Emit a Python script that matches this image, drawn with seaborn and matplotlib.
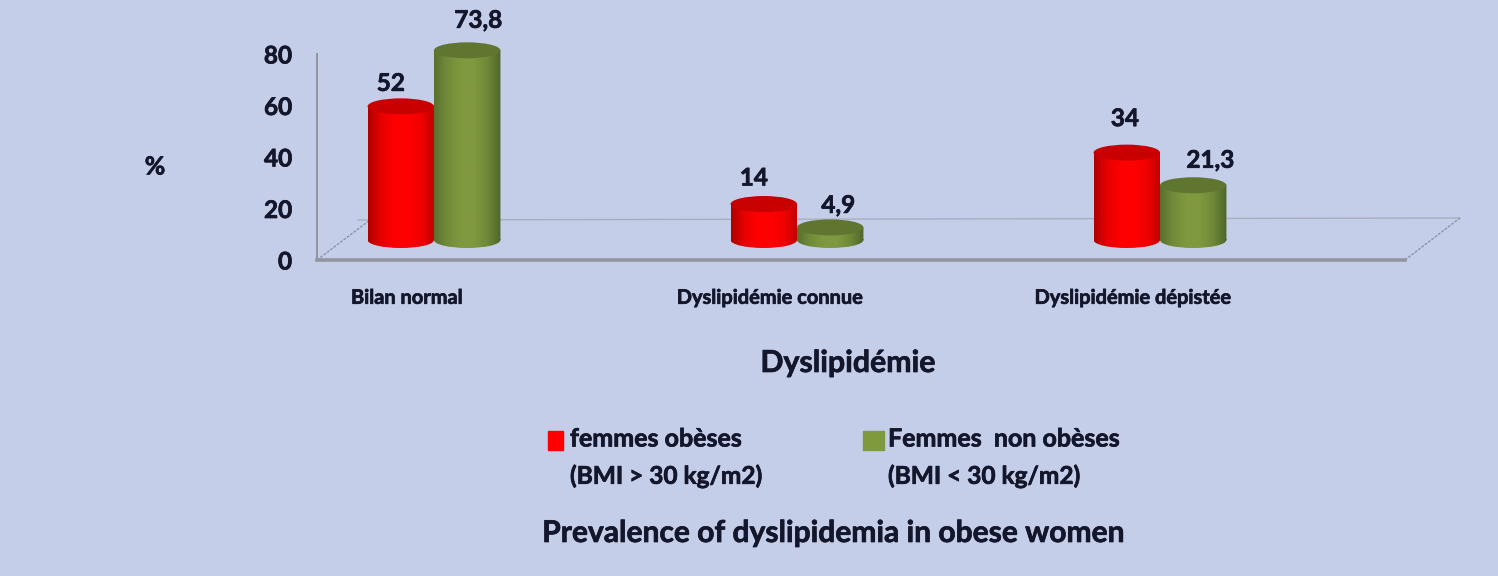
import numpy as np
import pandas as pd
import seaborn as sns
import matplotlib.pyplot as plt
import matplotlib.patheffects as pe
from matplotlib.colors import LinearSegmentedColormap
from matplotlib.lines import Line2D
from matplotlib.patches import Ellipse, Rectangle
from matplotlib.path import Path
from matplotlib.text import Text
from matplotlib.transforms import Affine2D

# data
categories = ["Bilan normal", "Dyslipidémie connue", "Dyslipidémie dépistée"]
obeses = [52, 14, 34]
non_obeses = [73.8, 4.9, 21.3]
series_names = ["femmes obèses", "Femmes  non obèses"]
series_notes = ["(BMI > 30 kg/m2)", "(BMI < 30 kg/m2)"]
y_ticks = [0, 20, 40, 60, 80]

# label nudges in pixels, the labels are not centred on the cylinders in the original
nudge_obeses = [(-10, 23), (-10, 26), (-2, 34)]
nudge_non_obeses = [(11, 30), (8, 22), (17, 25)]

W, H = 1498, 576
BG = "#C5CEE9"
INK = "#14172B"
sns.set_theme(style="white")
plt.rcParams["font.family"] = ["Lato", "DejaVu Sans"]
plt.rcParams["font.weight"] = "bold"

fig = plt.figure(figsize=(W / 100, H / 100), dpi=100, facecolor=BG)


def box(x0, y_top, x1, y_bottom):
    return [x0 / W, 1 - y_bottom / H, (x1 - x0) / W, (y_bottom - y_top) / H]


def fx(x):
    return x / W


def fy(y):
    return 1 - y / H


# x limits put the three groups at 434, 797 and 1160 px
x_lim = ((317 - 434) / 363, (1405 - 434) / 363)

# front axis
ax2 = fig.add_axes(box(317, 54, 1405, 260), facecolor="none")
ax2.set_xlim(x_lim)
ax2.set_ylim(0, 80)
ax2.set_yticks(y_ticks)
ax2.set_xticks([i - 27 / 363 for i in range(3)])
ax2.set_xticklabels(categories, fontsize=14.4, color=INK, fontweight="bold")
ax2.tick_params(axis="x", length=0, pad=20)
ax2.tick_params(axis="y", length=0, pad=18, labelsize=17.5, labelcolor=INK)
sns.despine(ax=ax2)
ax2.spines["left"].set_color("#8E8E94")
ax2.spines["left"].set_linewidth(1.3)
ax2.spines["bottom"].set_color("#92959F")
ax2.spines["bottom"].set_linewidth(2.6)

# floor of the 3d box, behind the axes
floor = [((317, 260), (370, 220), "#8F93A0", (0, (2, 1)), 1.0),
         ((358, 220), (1460, 218), "#A9AEBF", "-", 1.0),
         ((1405, 260), (1460, 218), "#8F93A0", (0, (2, 1)), 1.0)]
for a, b, col, ls, lw in floor:
    fig.add_artist(Line2D([fx(a[0]), fx(b[0])], [fy(a[1]), fy(b[1])], color=col, ls=ls, lw=lw, zorder=-1))

# bars
ax = fig.add_axes(box(317, 240 - 80 * 2.57, 1405, 240), facecolor="none")
df = pd.DataFrame({
    "categorie": categories * 2,
    "valeur": obeses + non_obeses,
    "groupe": [series_names[0]] * 3 + [series_names[1]] * 3,
})
sns.barplot(data=df, x="categorie", y="valeur", hue="groupe", order=categories,
            palette=["#FF0000", "#7F9A3C"], width=0.366, gap=0, legend=False,
            saturation=1, ax=ax)
ax.axis("off")

shades = [
    {"cmap": ["#B00000", "#E80000", "#FF0000", "#FF0000", "#F00000", "#C00000"], "top": "#C80000"},
    {"cmap": ["#5A7030", "#728C3A", "#80993F", "#80993F", "#6F8838", "#4F652A"], "top": "#5F7530"},
]
cap_h = 16 / 2.57

for k, (cont, nudges, vals) in enumerate(zip(ax.containers, [nudge_obeses, nudge_non_obeses], [obeses, non_obeses])):
    cmap = LinearSegmentedColormap.from_list("cyl", shades[k]["cmap"])
    for bar, (dx, dy), v in zip(cont, nudges, vals):
        x, w, h = bar.get_x(), bar.get_width(), bar.get_height()
        bar.set_visible(False)
        # round off the body with a bottom ellipse, then a horizontal shading
        rect = Path.unit_rectangle().transformed(Affine2D().scale(w, h).translate(x, 0))
        base = Path.unit_circle().transformed(Affine2D().scale(w / 2, cap_h / 2).translate(x + w / 2, 0))
        outline = Path.make_compound_path(rect, base)
        grad = np.linspace(0, 1, 128).reshape(1, -1)
        im = ax.imshow(grad, cmap=cmap, aspect="auto", zorder=3 + k,
                       extent=(x, x + w, -cap_h, h), interpolation="bilinear")
        im.set_clip_box(fig.bbox)
        im.set_clip_path(outline, ax.transData)
        ax.add_patch(Ellipse((x + w / 2, h), w, cap_h, fc=shades[k]["top"], ec="none", zorder=3.5 + k))
        ax.annotate(f"{v:g}".replace(".", ","), (x + w / 2, h), xytext=(dx * 0.72, dy * 0.72),
                    textcoords="offset points", ha="center", va="center", fontsize=17.5,
                    color=INK, fontweight="bold", zorder=6)

ax.set_xlim(x_lim)
ax.set_ylim(0, 80)

# other text
fig.text(fx(155), fy(167), "%", ha="center", va="center", fontsize=18, color=INK)
fig.text(fx(848), fy(363), "Dyslipidémie", ha="center", va="center", fontsize=21.8, color=INK)
fig.text(fx(834), fy(533), "Prevalence of dyslipidemia in obese women", ha="center", va="center",
         fontsize=21.6, color=INK)

# legend
swatch_x = [548, 863]
swatch_w = [15, 21]
text_x = [570, 888]
legend_cols = ["#FF0000", "#7F9A3C"]
for lx, sw, tx, col, name, note in zip(swatch_x, swatch_w, text_x, legend_cols, series_names, series_notes):
    fig.add_artist(Rectangle((fx(lx), fy(450)), sw / W, 19 / H, color=col, transform=fig.transFigure))
    fig.text(fx(tx), fy(439), name, va="center", fontsize=18, color=INK)
    fig.text(fx(tx), fy(476), note, va="center", fontsize=17.6, color=INK)

# the original text is heavy, thicken it a little
for t in fig.findobj(Text):
    t.set_path_effects([pe.withStroke(linewidth=0.5, foreground=INK)])

fig.savefig("out.png", dpi=100, facecolor=BG)
